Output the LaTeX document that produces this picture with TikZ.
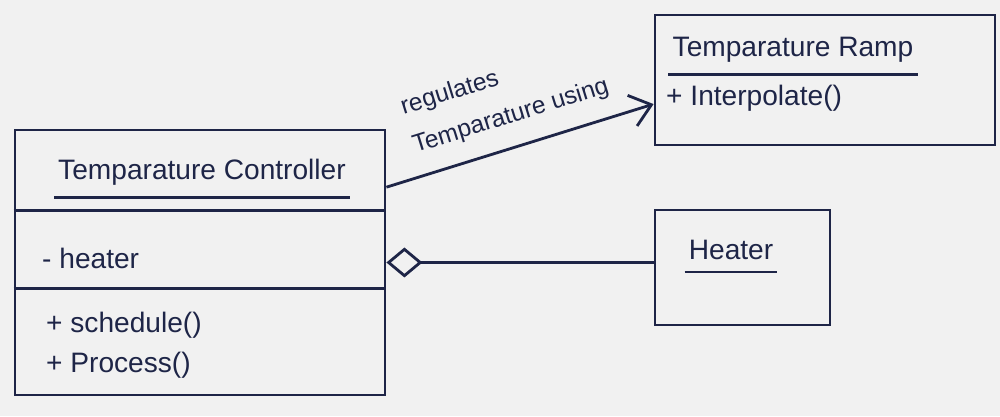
\documentclass[tikz,border=0pt]{standalone}
\usepackage{fontspec}
\setmainfont{Liberation Sans}
\definecolor{SketchInk}{HTML}{1E2547}
\definecolor{SketchPaper}{HTML}{F1F1F1}
\usepackage{tikz}
\usetikzlibrary{arrows.meta,positioning,calc}
\tikzset{
    % Class boxes, drawn empty and filled in by hand
    classbox/.style={
        rectangle,
        draw=SketchInk,
        thick,
        inner sep=0pt
    },
    classname/.style={
        font=\footnotesize,
        text=SketchInk,
        inner sep=1pt
    },
    member/.style={
        font=\footnotesize,
        text=SketchInk,
        anchor=west,
        inner sep=1pt
    },
    divider/.style={
        thick,
        draw=SketchInk
    },
    association/.style={
        -{Straight Barb[length=2mm,width=3.2mm]},
        thick,
        color=SketchInk
    },
    aggregation/.style={
        {Diamond[open,length=3.6mm,width=3mm]}-,
        thick,
        color=SketchInk
    }
}

\begin{document}
\begin{tikzpicture}
        \useasboundingbox[fill=SketchPaper] (0,0) rectangle (10,4.16);

        % Classes
        \node[classbox, minimum width=3.7cm, minimum height=2.65cm] (ctrl) at (2.0,1.535) {};
        \node[classbox, minimum width=3.4cm, minimum height=1.3cm] (ramp) at (8.25,3.36) {};
        \node[classbox, minimum width=1.75cm, minimum height=1.15cm] (heater) at (7.425,1.485) {};

        % Compartments of the controller
        \draw[divider] ([yshift=-8.2mm]ctrl.north west) -- ([yshift=-8.2mm]ctrl.north east);
        \draw[divider] ([yshift=-16mm]ctrl.north west) -- ([yshift=-16mm]ctrl.north east);

        % Names, underlined
        \node[classname] (ctrlname) at (2.02,2.44) {Temparature Controller};
        \draw[divider] ([yshift=-0.8mm]ctrlname.south west) -- ([yshift=-0.8mm]ctrlname.south east);
        \node[classname] (rampname) at (7.93,3.66) {Temparature Ramp};
        \draw[divider] ([yshift=-0.8mm]rampname.south west) -- ([yshift=-0.8mm]rampname.south east);
        \node[classname] (heatername) at (7.31,1.66) {Heater};
        \draw[divider] ([yshift=-0.8mm]heatername.south west) -- ([yshift=-0.8mm]heatername.south east);

        % Members
        \node[member] (heaterattr) at (0.38,1.58) {- heater};
        \node[member] (schedule) at (0.42,0.91) {+ schedule()};
        \node[member] (process) at (0.42,0.51) {+ Process()};
        \node[member] (interpolate) at (6.62,3.18) {+ Interpolate()};

        % Relations
        \draw[association] (ctrl.22.7) -- node[midway, above=0.6mm, sloped, align=left, font=\fontsize{7}{8}\selectfont, text=SketchInk] (assoclabel) {regulates\\[1.2mm]Temparature using} (ramp.188);
        \draw[aggregation] (ctrl.east) -- (heater.west |- ctrl.east);
    \end{tikzpicture}
\end{document}
